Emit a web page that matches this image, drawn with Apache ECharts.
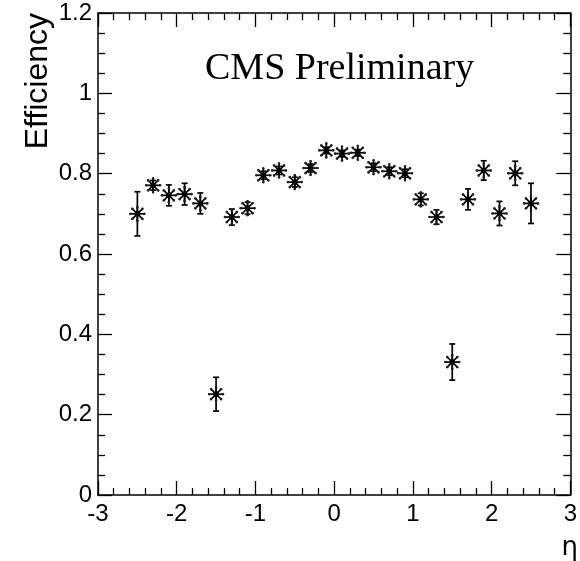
<!DOCTYPE html>
<html>
<head>
<meta charset="utf-8">
<script src="https://cdn.jsdelivr.net/npm/echarts@6/dist/echarts.min.js"></script>
<style>html,body{margin:0;padding:0;background:#fff;}#c{width:580px;height:561px;}</style>
</head>
<body>
<div id="c"></div>
<script>
// Data
const etaBins = [-2.5,-2.3,-2.1,-1.9,-1.7,-1.5,-1.3,-1.1,-0.9,-0.7,-0.5,-0.3,-0.1,0.1,0.3,0.5,0.7,0.9,1.1,1.3,1.5,1.7,1.9,2.1,2.3,2.5];
const efficiency = [0.700,0.771,0.746,0.749,0.726,0.251,0.692,0.714,0.796,0.808,0.779,0.814,0.858,0.850,0.852,0.816,0.806,0.801,0.736,0.692,0.331,0.736,0.808,0.701,0.801,0.726];
const effError = [0.055,0.012,0.026,0.027,0.026,0.042,0.020,0.015,0.010,0.010,0.012,0.010,0.008,0.008,0.008,0.010,0.010,0.010,0.015,0.018,0.045,0.026,0.024,0.030,0.030,0.050];
const xTicks = [-3,-2,-1,0,1,2,3];
const yTicks = [0,0.2,0.4,0.6,0.8,1,1.2];

const points = etaBins.map((x,i)=>[x, efficiency[i], effError[i]]);

const chart = echarts.init(document.getElementById('c'), null, {renderer:'canvas'});
const sans = 'Liberation Sans, Arial, Helvetica, sans-serif';
const axisLine = {show:true, onZero:false, lineStyle:{color:'#000', width:1.5}};

function xAxisDef(pos, showLabel){
  return {
    type:'value', position:pos, min:xTicks[0], max:xTicks[xTicks.length-1], interval:1,
    axisLine: axisLine,
    axisTick:{show:true, inside:true, length:14, lineStyle:{color:'#000', width:1.3}},
    minorTick:{show:true, splitNumber:5, length:7, lineStyle:{color:'#000', width:1.3}},
    splitLine:{show:false}, minorSplitLine:{show:false},
    axisLabel:{show:showLabel, color:'#000', fontFamily:sans, fontSize:24, margin:7}
  };
}
function yAxisDef(pos, showLabel){
  return {
    type:'value', position:pos, min:yTicks[0], max:yTicks[yTicks.length-1], interval:0.2,
    axisLine: axisLine,
    axisTick:{show:true, inside:true, length:14, lineStyle:{color:'#000', width:1.3}},
    minorTick:{show:true, splitNumber:4, length:7, lineStyle:{color:'#000', width:1.3}},
    splitLine:{show:false}, minorSplitLine:{show:false},
    axisLabel:{show:showLabel, color:'#000', fontFamily:sans, fontSize:24, margin:6,
      formatter:v=>String(Math.round(v*10)/10)}
  };
}

function renderPoint(params, api){
  const x = api.value(0), y = api.value(1), e = api.value(2);
  const p = api.coord([x,y]);
  const hi = api.coord([x,y+e]);
  const lo = api.coord([x,y-e]);
  const st = {stroke:'#000', lineWidth:1.7, fill:null};
  const r = 8, d = 5.8, cap = 3;
  const children = [
    {type:'line', shape:{x1:p[0],y1:hi[1],x2:p[0],y2:lo[1]}, style:st},
    {type:'line', shape:{x1:p[0]-cap,y1:hi[1],x2:p[0]+cap,y2:hi[1]}, style:st},
    {type:'line', shape:{x1:p[0]-cap,y1:lo[1],x2:p[0]+cap,y2:lo[1]}, style:st},
    {type:'line', shape:{x1:p[0]-r,y1:p[1],x2:p[0]+r,y2:p[1]}, style:st},
    {type:'line', shape:{x1:p[0],y1:p[1]-r,x2:p[0],y2:p[1]+r}, style:st},
    {type:'line', shape:{x1:p[0]-d,y1:p[1]-d,x2:p[0]+d,y2:p[1]+d}, style:st},
    {type:'line', shape:{x1:p[0]-d,y1:p[1]+d,x2:p[0]+d,y2:p[1]-d}, style:st},
    {type:'rect', shape:{x:p[0]-2.5,y:p[1]-2.5,width:5,height:5}, style:{fill:'#000'}}
  ];
  [[d,d],[-d,d],[d,-d],[-d,-d],[r,0],[-r,0],[0,r],[0,-r]].forEach(o=>{
    children.push({type:'circle', shape:{cx:p[0]+o[0]*0.85, cy:p[1]+o[1]*0.85, r:1.3}, style:{fill:'#222'}});
  });
  return {type:'group', children};
}

chart.setOption({
  animation:false,
  backgroundColor:'#fff',
  grid:{left:98, right:4, top:13, bottom:66, containLabel:false},
  xAxis:[xAxisDef('bottom', true), xAxisDef('top', false)],
  yAxis:[yAxisDef('left', true), yAxisDef('right', false)],
  series:[{
    type:'custom', xAxisIndex:0, yAxisIndex:0,
    renderItem: renderPoint,
    encode:{x:0, y:1},
    data: points,
    clip:false
  }],
  graphic:[
    {type:'text', x:205, y:69, style:{text:'CMS Preliminary', font:'38px "Liberation Serif", "Times New Roman", serif', fill:'#000', align:'left', verticalAlign:'middle'}},
    {type:'text', x:38, y:13, rotation:Math.PI/2, style:{text:'Efficiency', font:'32px '+sans, fill:'#000', align:'right', verticalAlign:'middle'}},
    {type:'text', x:578, y:548, style:{text:'η', font:'26px "DejaVu Sans", sans-serif', fill:'#000', align:'right', verticalAlign:'middle'}}
  ]
});
</script>
</body>
</html>
